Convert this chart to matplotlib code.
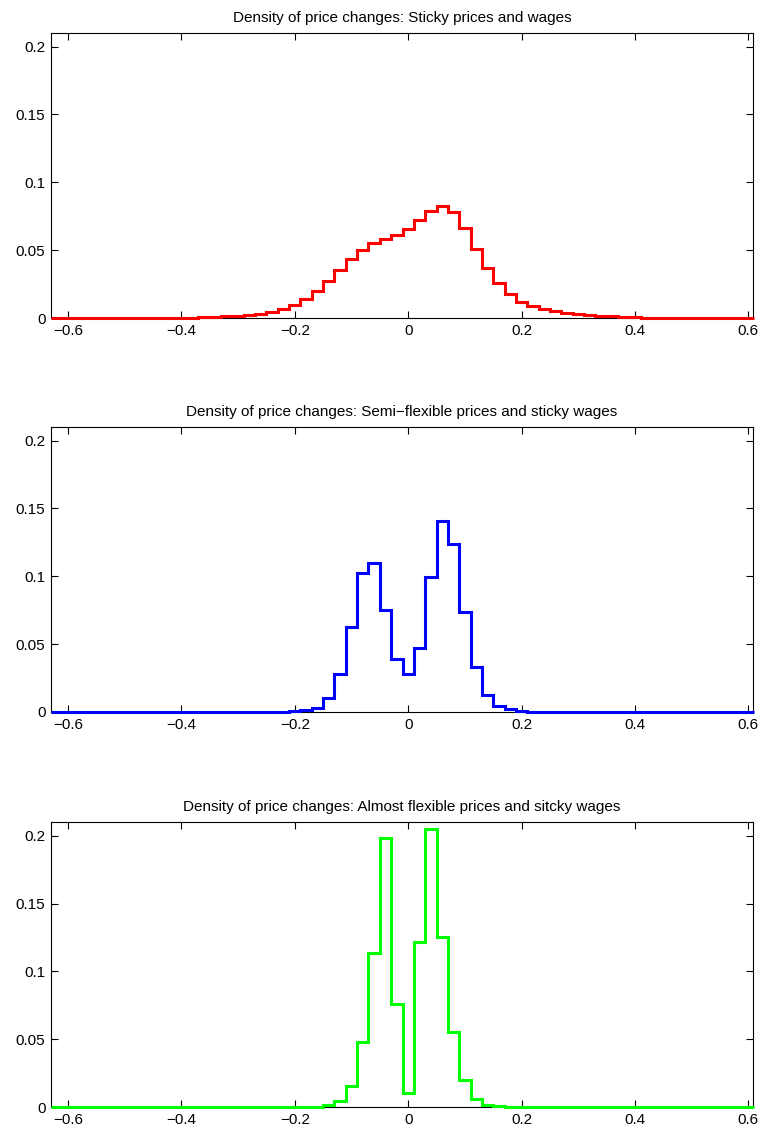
import matplotlib
matplotlib.use("Agg")
import matplotlib.pyplot as plt
import numpy as np

plt.rcParams.update({
    "font.family": ["Liberation Sans", "DejaVu Sans"],
    "font.size": 11,
    "axes.unicode_minus": True,
})

# histogram bins: centres every 0.02 from -0.62 to 0.60
bin_edges = np.round(np.arange(-0.63, 0.6101, 0.02), 2)

sticky = [
    0, 0, 0, 0, 0, 0, 0, 0, 0, 0,
    0.0001, 0.0002, 0.0003, 0.0005, 0.0008, 0.0012, 0.0017, 0.0024, 0.0032, 0.0047,
    0.0069, 0.0096, 0.0143, 0.0197, 0.0273, 0.0354, 0.0432, 0.0502, 0.0554, 0.0584,
    0.0613, 0.0656, 0.0722, 0.0791, 0.0823, 0.0779, 0.0666, 0.0512, 0.0366, 0.0256,
    0.0176, 0.0120, 0.0088, 0.0066, 0.0052, 0.0039, 0.0032, 0.0025, 0.0017, 0.0012,
    0.0008, 0.0005, 0.0003, 0.0002, 0.0001, 0, 0, 0, 0, 0,
    0, 0,
]

semi_flexible = [
    0, 0, 0, 0, 0, 0, 0, 0, 0, 0,
    0, 0, 0, 0, 0, 0, 0, 0, 0, 0,
    0.0002, 0.0006, 0.0015, 0.0032, 0.0101, 0.0278, 0.0629, 0.1027, 0.1101, 0.0752,
    0.0393, 0.0278, 0.0474, 0.0998, 0.1410, 0.1238, 0.0734, 0.0330, 0.0125, 0.0047,
    0.0022, 0.0008, 0.0003, 0.0001, 0, 0, 0, 0, 0, 0,
    0, 0, 0, 0, 0, 0, 0, 0, 0, 0,
    0, 0,
]

almost_flexible = [
    0, 0, 0, 0, 0, 0, 0, 0, 0, 0,
    0, 0, 0, 0, 0, 0, 0, 0, 0, 0,
    0, 0, 0.0001, 0.0004, 0.0012, 0.0044, 0.0157, 0.0477, 0.1133, 0.1981,
    0.0757, 0.0101, 0.1214, 0.2049, 0.1255, 0.0555, 0.0199, 0.0059, 0.0015, 0.0005,
    0.0001, 0, 0, 0, 0, 0, 0, 0, 0, 0,
    0, 0, 0, 0, 0, 0, 0, 0, 0, 0,
    0, 0,
]

titles = [
    "Density of price changes: Sticky prices and wages",
    "Density of price changes: Semi\u2212flexible prices and sticky wages",
    "Density of price changes: Almost flexible prices and sitcky wages",
]
series = [sticky, semi_flexible, almost_flexible]
colors = ["#ff0000", "#0000ff", "#00ff00"]

x_ticks = [-0.6, -0.4, -0.2, 0, 0.2, 0.4, 0.6]
x_tick_labels = ["\u22120.6", "\u22120.4", "\u22120.2", "0", "0.2", "0.4", "0.6"]
y_ticks = [0, 0.05, 0.1, 0.15, 0.2]
y_tick_labels = ["0", "0.05", "0.1", "0.15", "0.2"]

fig = plt.figure(figsize=(7.63, 11.33), dpi=100)
bottoms = [0.7193, 0.3716, 0.0229]
left, width, height = 0.0668, 0.920, 0.2515

for bottom, title, vals, col in zip(bottoms, titles, series, colors):
    ax = fig.add_axes([left, bottom, width, height])
    # draw above the spines so the zero runs show along the bottom axis
    ax.stairs(vals, bin_edges, color=col, linewidth=2.2, baseline=None,
              zorder=3, clip_on=False)
    ax.set_xlim(-0.63, 0.608)
    ax.set_ylim(0, 0.21)
    ax.set_xticks(x_ticks)
    ax.set_xticklabels(x_tick_labels)
    ax.set_yticks(y_ticks)
    ax.set_yticklabels(y_tick_labels)
    ax.tick_params(direction="in", top=True, right=True, length=5, width=0.8,
                   labelsize=11, pad=4)
    for sp in ax.spines.values():
        sp.set_linewidth(0.8)
    ax.set_title(title, fontsize=11, pad=8)

fig.savefig("out.png", dpi=100)
